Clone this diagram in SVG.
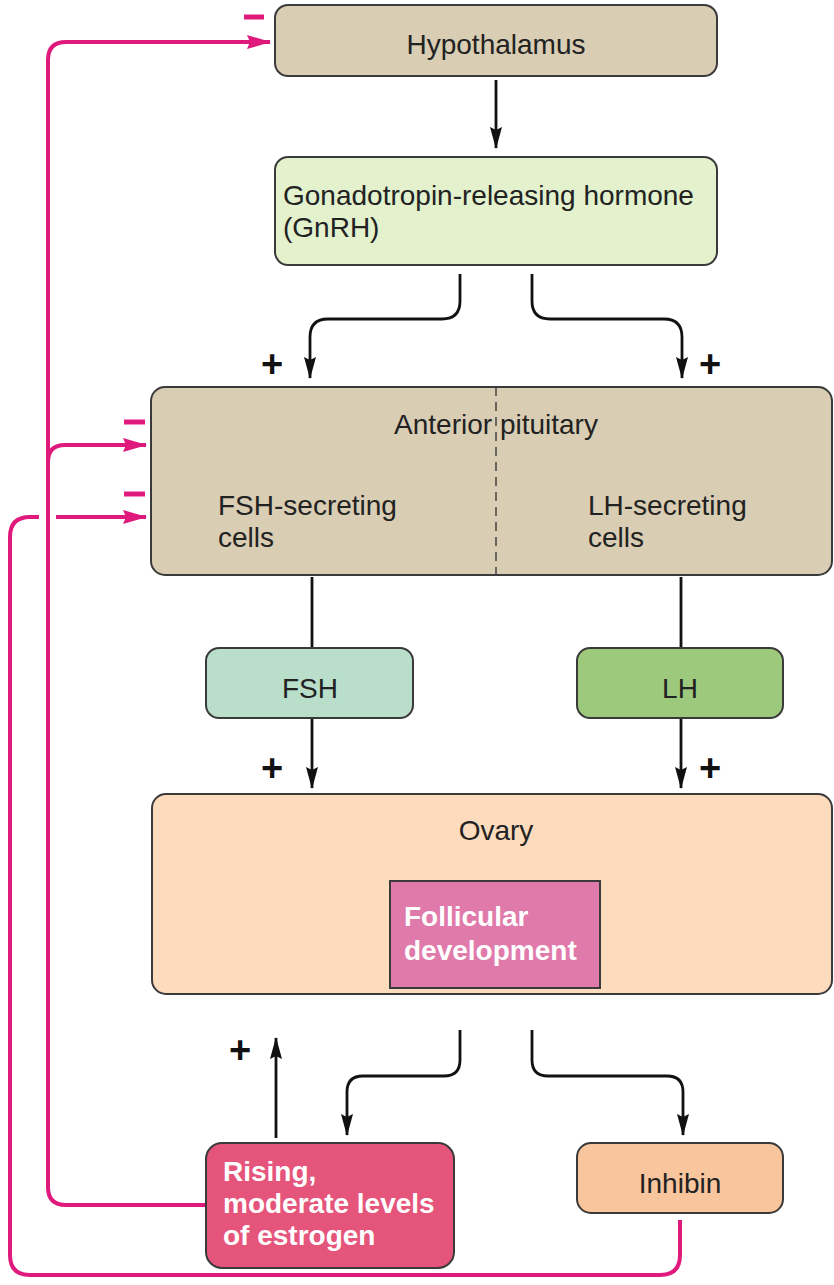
<svg xmlns="http://www.w3.org/2000/svg" width="834" height="1285" viewBox="0 0 834 1285">
<style>
.box{stroke:#3a3a3a;stroke-width:2}
.t{font-family:"Liberation Sans",Arial,sans-serif;font-size:28px;fill:#222}
.w{font-family:"Liberation Sans",Arial,sans-serif;font-size:28px;font-weight:bold;fill:#fff}
.c{fill:none;stroke:#111;stroke-width:2.8}
.p{fill:none;stroke:#e0197d;stroke-width:4}
.pl{font-family:"Liberation Sans",Arial,sans-serif;font-size:38px;font-weight:bold;fill:#111}
.mn{stroke:#e0197d;stroke-width:5}
</style>
<defs>
<marker id="ahb" viewBox="0 0 22 12" refX="21" refY="6" markerWidth="22" markerHeight="12" markerUnits="userSpaceOnUse" orient="auto"><path d="M0,0 L22,6 L0,12 L3,6 Z" fill="#111"/></marker>
<marker id="ap" viewBox="0 0 24 14" refX="23" refY="7" markerWidth="24" markerHeight="14" markerUnits="userSpaceOnUse" orient="auto"><path d="M0,0 L24,7 L0,14 L3,7 Z" fill="#e0197d"/></marker>
</defs>

<g id="connectors">
<path class="c" d="M496,80 V148" marker-end="url(#ahb)"/>
<path class="c" d="M460,274 V301 Q460,319 442,319 H328 Q310,319 310,337 V378" marker-end="url(#ahb)"/>
<path class="c" d="M532,274 V301 Q532,319 550,319 H664 Q682,319 682,337 V378" marker-end="url(#ahb)"/>
<path class="c" d="M312,577 V648"/>
<path class="c" d="M681,577 V648"/>
<path class="c" d="M312,718 V788" marker-end="url(#ahb)"/>
<path class="c" d="M681,718 V788" marker-end="url(#ahb)"/>
<path class="c" d="M276,1138 V1038" marker-end="url(#ahb)"/>
<path class="c" d="M460,1030 V1060 Q460,1076 444,1076 H363 Q347,1076 347,1092 V1135" marker-end="url(#ahb)"/>
<path class="c" d="M532,1030 V1060 Q532,1076 548,1076 H667 Q683,1076 683,1092 V1135" marker-end="url(#ahb)"/>
<path class="p" d="M206,1205 H66 Q48,1205 48,1187 V60 Q48,42 66,42 H270" marker-end="url(#ap)"/>
<path class="p" d="M48,462 Q48,445 65,445 H146" marker-end="url(#ap)"/>
<path class="p" d="M680,1220 V1255 Q680,1275 660,1275 H30 Q10,1275 10,1255 V537 Q10,517 30,517 H39"/>
<path class="p" d="M56,517 H146" marker-end="url(#ap)"/>
<line class="mn" x1="244" y1="17" x2="264" y2="17"/>
<line class="mn" x1="124" y1="422" x2="145" y2="422"/>
<line class="mn" x1="124" y1="494" x2="145" y2="494"/>
<text class="pl" x="261" y="377">+</text>
<text class="pl" x="699" y="377">+</text>
<text class="pl" x="261" y="781">+</text>
<text class="pl" x="699" y="781">+</text>
<text class="pl" x="229" y="1063">+</text>
</g>

<g id="hypothalamus">
<rect class="box" x="275" y="5" width="442" height="71" rx="13" fill="#d9cdb3"/>
<text class="t" x="496" y="54" text-anchor="middle">Hypothalamus</text>
</g>
<g id="gnrh">
<rect class="box" x="275" y="157" width="442" height="108" rx="13" fill="#e3f1cd"/>
<text class="t" x="283" y="205">Gonadotropin-releasing hormone</text>
<text class="t" x="283" y="237">(GnRH)</text>
</g>
<g id="anterior-pituitary">
<rect class="box" x="151" y="387" width="681" height="188" rx="14" fill="#d9cdb3"/>
<line x1="496" y1="387" x2="496" y2="575" stroke="#444" stroke-width="1.5" stroke-dasharray="9,6"/>
<text class="t" x="496" y="434" text-anchor="middle">Anterior pituitary</text>
<text class="t" x="218" y="515">FSH-secreting</text>
<text class="t" x="218" y="547">cells</text>
<text class="t" x="588" y="515">LH-secreting</text>
<text class="t" x="588" y="547">cells</text>
</g>
<g id="fsh">
<rect class="box" x="206" y="648" width="207" height="70" rx="13" fill="#b9dfca"/>
<text class="t" x="310" y="698" text-anchor="middle">FSH</text>
</g>
<g id="lh">
<rect class="box" x="577" y="648" width="206" height="70" rx="13" fill="#9dc97c"/>
<text class="t" x="680" y="698" text-anchor="middle">LH</text>
</g>
<g id="ovary">
<rect class="box" x="152" y="794" width="680" height="200" rx="14" fill="#fddcbd"/>
<text class="t" x="496" y="840" text-anchor="middle">Ovary</text>
</g>
<g id="follicular-development">
<rect class="box" x="390" y="881" width="210" height="107" fill="#e07aab"/>
<text class="w" x="404" y="926">Follicular</text>
<text class="w" x="404" y="960">development</text>
</g>
<g id="estrogen">
<rect class="box" x="206" y="1143" width="248" height="125" rx="16" fill="#e5557b"/>
<text class="w" x="223" y="1181">Rising,</text>
<text class="w" x="223" y="1213">moderate levels</text>
<text class="w" x="223" y="1245">of estrogen</text>
</g>
<g id="inhibin">
<rect class="box" x="577" y="1143" width="206" height="70" rx="14" fill="#f9c59c"/>
<text class="t" x="680" y="1193" text-anchor="middle">Inhibin</text>
</g>
</svg>
